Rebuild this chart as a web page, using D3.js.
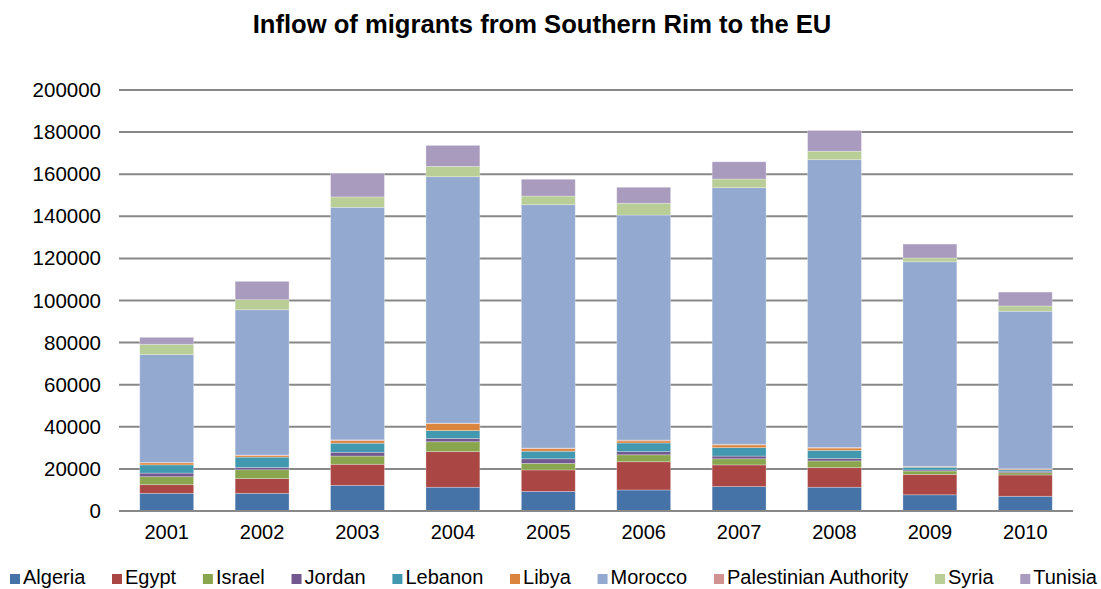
<!DOCTYPE html>
<html><head><meta charset="utf-8">
<script src="https://cdn.jsdelivr.net/npm/d3@7"></script>
<style>body{margin:0;background:#fff;} text{font-family:"Liberation Sans",Arial,sans-serif;}</style>
</head><body>
<svg id="c" width="1101" height="589"></svg>
<script>
const years = ["2001","2002","2003","2004","2005","2006","2007","2008","2009","2010"];
const countries = ["Algeria","Egypt","Israel","Jordan","Lebanon","Libya","Morocco","Palestinian Authority","Syria","Tunisia"];
const colors = ["#4572A7","#AA4643","#89A54E","#71588F","#4198AF","#DB843D","#93A9CF","#D19392","#B9CD96","#A99BBD"];
const algeria = [8400, 8400, 12200, 11300, 9300, 10000, 11600, 11300, 7700, 7000];
const egypt = [4100, 7000, 10000, 16900, 10200, 13400, 10300, 9300, 9700, 10100];
const israel = [3800, 4200, 3900, 4700, 3100, 3300, 2900, 3200, 1600, 1100];
const jordan = [1700, 1100, 1800, 1600, 2200, 1500, 1300, 1200, 500, 700];
const lebanon = [3900, 4900, 4300, 3700, 3600, 4100, 4000, 3800, 1300, 700];
const libya = [1000, 800, 1200, 3300, 1200, 1000, 1300, 1100, 200, 300];
const morocco = [51200, 69000, 110500, 117000, 115600, 106900, 121900, 136700, 97200, 74800];
const palestinian = [200, 200, 400, 300, 300, 400, 300, 300, 200, 200];
const syria = [4900, 4800, 4900, 4900, 4100, 5600, 4100, 4000, 1800, 2500];
const tunisia = [3300, 8700, 11200, 10000, 8000, 7600, 8200, 9900, 6600, 6600];
const yTicks = [0,20000,40000,60000,80000,100000,120000,140000,160000,180000,200000];
const title = "Inflow of migrants from Southern Rim to the EU";

// stack order: as drawn bottom to top
const stackOrder = ["Algeria","Egypt","Israel","Jordan","Lebanon","Libya","Palestinian Authority","Morocco","Syria","Tunisia"];
const seriesVals = {"Algeria":algeria,"Egypt":egypt,"Israel":israel,"Jordan":jordan,"Lebanon":lebanon,"Libya":libya,"Morocco":morocco,"Palestinian Authority":palestinian,"Syria":syria,"Tunisia":tunisia};
const colorOf = d3.scaleOrdinal().domain(countries).range(colors);

const table = years.map((y,i)=>{const o={year:y}; countries.forEach(c=>o[c]=seriesVals[c][i]); return o;});
const stacked = d3.stack().keys(stackOrder)(table);

const svg = d3.select("#c");
const L=119, R=1073, T=90, B=511;
const x = d3.scaleBand().domain(years).range([L,R]).paddingInner(0.435).paddingOuter(0.2175);
const y = d3.scaleLinear().domain([0,200000]).range([B,T]);

svg.append("text").attr("x",542).attr("y",33).attr("text-anchor","middle")
  .attr("font-weight","bold").attr("font-size",25.6).text(title);

// gridlines
svg.append("g").selectAll("line").data(yTicks).join("line")
  .attr("x1",L).attr("x2",R).attr("y1",d=>y(d)).attr("y2",d=>y(d))
  .attr("stroke","#888").attr("stroke-width",2);

const yAxis = svg.append("g").attr("transform",`translate(${L},0)`)
  .call(d3.axisLeft(y).tickValues(yTicks).tickFormat(d3.format("d")).tickSize(0).tickPadding(18));
yAxis.select(".domain").remove();
yAxis.selectAll("text").attr("font-size",20.5).attr("fill","#000").attr("font-family","Liberation Sans, Arial, sans-serif");

// bars
svg.append("g").selectAll("g").data(stacked).join("g").attr("fill",d=>colorOf(d.key))
  .selectAll("rect").data(d=>d).join("rect")
  .attr("x",d=>x(d.data.year)).attr("width",x.bandwidth())
  .attr("y",d=>y(d[1])).attr("height",d=>y(d[0])-y(d[1]))
  .attr("stroke","rgba(255,255,255,0.35)").attr("stroke-width",0.8);

// baseline
svg.append("line").attr("x1",L).attr("x2",R).attr("y1",y(0)).attr("y2",y(0)).attr("stroke","#888").attr("stroke-width",2);

const xAxis = svg.append("g").attr("transform",`translate(0,${B})`)
  .call(d3.axisBottom(x).tickSize(0).tickPadding(14));
xAxis.select(".domain").remove();
xAxis.selectAll("text").attr("font-size",20).attr("fill","#000").attr("font-family","Liberation Sans, Arial, sans-serif");

// legend
const lg = svg.append("g");
const items = lg.selectAll("g").data(countries).join("g");
items.append("rect").attr("width",10).attr("height",10).attr("y",574).attr("fill",d=>colorOf(d));
items.append("text").attr("x",13).attr("y",584).attr("font-size",20).text(d=>d);
const widths = [];
items.each(function(){ widths.push(this.querySelector("text").getComputedTextLength()+13); });
const totalW = 1097-10;
const gap = (totalW - d3.sum(widths))/(countries.length-1);
let cx = 10;
items.each(function(d,i){ d3.select(this).attr("transform",`translate(${cx},0)`); cx += widths[i]+gap; });
</script>
</body></html>
